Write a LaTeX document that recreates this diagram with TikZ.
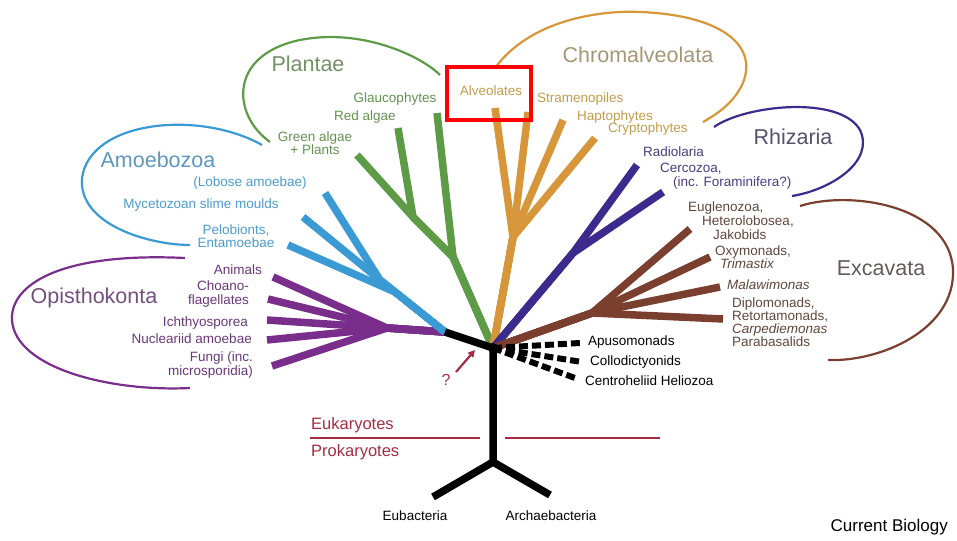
\documentclass[tikz,border=0pt]{standalone}
\usepackage{fontspec}
\setmainfont{Liberation Sans}
\usetikzlibrary{arrows.meta}
\definecolor{opi}{RGB}{122,46,140}
\definecolor{opit}{RGB}{105,55,120}
\definecolor{opig}{RGB}{115,80,125}
\definecolor{amo}{RGB}{58,154,212}
\definecolor{amot}{RGB}{75,155,205}
\definecolor{amog}{RGB}{95,150,190}
\definecolor{pla}{RGB}{94,155,70}
\definecolor{plat}{RGB}{100,145,80}
\definecolor{plag}{RGB}{115,145,100}
\definecolor{chr}{RGB}{216,150,58}
\definecolor{chrt}{RGB}{195,155,75}
\definecolor{chrg}{RGB}{165,150,120}
\definecolor{rhi}{RGB}{60,42,140}
\definecolor{rhit}{RGB}{70,60,130}
\definecolor{rhig}{RGB}{85,80,110}
\definecolor{exc}{RGB}{122,63,46}
\definecolor{exct}{RGB}{95,70,60}
\definecolor{excg}{RGB}{100,90,90}
\definecolor{euk}{RGB}{165,45,65}
\tikzset{
  branch/.style={line width=7.5pt, line join=round},
  loopline/.style={line width=2.2pt},
  lbl/.style={font=\fontsize{13.5}{13.5}\selectfont, inner sep=0pt},
  grp/.style={font=\fontsize{21.5}{24}\selectfont, inner sep=0pt},
  dashbranch/.style={line width=6pt, dash pattern=on 9pt off 4pt}
}
\begin{document}
\begin{tikzpicture}[x=1pt,y=-1pt]
\useasboundingbox (0,0) rectangle (957,540);
% ---- coordinates
\coordinate (hub) at (493,348);
\coordinate (bp) at (445,332);
\coordinate (split) at (493,462);
\coordinate (eub) at (433,497);
\coordinate (arc) at (550,495);
% opisthokonta
\coordinate (oj) at (387,328);
\coordinate (ani) at (273,277);
\coordinate (cho) at (268,299);
\coordinate (ich) at (267,320);
\coordinate (nuc) at (267,340);
\coordinate (fun) at (272,366);
% amoebozoa
\coordinate (aj) at (395,292);
\coordinate (aj2) at (380,280);
\coordinate (lob) at (325,193);
\coordinate (myx) at (303,217);
\coordinate (pel) at (288,245);
% plantae
\coordinate (gj1) at (453,257);
\coordinate (gj2) at (413,217);
\coordinate (gla) at (437,113);
\coordinate (red) at (398,128);
\coordinate (gre) at (357,155);
% chromalveolata
\coordinate (cj) at (513,237);
\coordinate (alv) at (495,108);
\coordinate (str) at (528,112);
\coordinate (hap) at (563,120);
\coordinate (cry) at (595,138);
% rhizaria
\coordinate (rj) at (573,253);
\coordinate (rad) at (637,165);
\coordinate (cer) at (663,192);
% excavata
\coordinate (bj) at (592,313);
\coordinate (eug) at (690,229);
\coordinate (oxy) at (710,257);
\coordinate (mal) at (720,287);
\coordinate (dip) at (723,319);
% dashed
\coordinate (apu) at (580,343);
\coordinate (col) at (582,362);
\coordinate (cen) at (575,378);
% arrow
\coordinate (qs) at (456,372);
\coordinate (qe) at (475,350);

% ---- loops
\draw[loopline,opi] (185,258) .. controls (60,252) and (10,285) .. (12,320) .. controls (15,368) and (110,392) .. (190,388);
\draw[loopline,amo] (262,145) .. controls (200,110) and (90,120) .. (82,178) .. controls (78,225) and (150,245) .. (190,245);
\draw[loopline,pla] (270,142) .. controls (232,115) and (228,55) .. (300,40) .. controls (360,28) and (420,55) .. (440,75);
\draw[loopline,chr] (495,68) .. controls (530,20) and (600,10) .. (640,12) .. controls (720,15) and (760,45) .. (742,85) .. controls (732,105) and (715,115) .. (703,122);
\draw[loopline,rhi] (714,127) .. controls (745,105) and (840,95) .. (860,130) .. controls (875,162) and (830,190) .. (792,196);
\draw[loopline,exc] (800,206) .. controls (850,190) and (950,205) .. (953,270) .. controls (955,330) and (880,362) .. (828,360);

% ---- branches
\foreach \e in {ani,cho,ich,nuc,fun} \draw[branch,opi] (bp) -- (oj) -- (\e);
\draw[branch,amo] (bp) -- (aj) -- (pel);
\foreach \e in {lob,myx} \draw[branch,amo] (bp) -- (aj2) -- (\e);
\draw[branch,pla] (hub) -- (gj1) -- (gla);
\foreach \e in {red,gre} \draw[branch,pla] (hub) -- (gj1) -- (gj2) -- (\e);
\foreach \e in {alv,str,hap,cry} \draw[branch,chr] (hub) -- (cj) -- (\e);
\foreach \e in {rad,cer} \draw[branch,rhi] (hub) -- (rj) -- (\e);
\foreach \e in {eug,oxy,mal,dip} \draw[branch,exc] (hub) -- (bj) -- (\e);
\foreach \e in {apu,col,cen} \draw[dashbranch] (hub) -- (\e);
\draw[branch,black] (bp) -- (hub) -- (split) -- (eub);
\draw[branch,black] (split) -- (arc);
\fill[black] (hub) circle (5pt);

% ---- arrow
\draw[line width=2.2pt,euk,-{Triangle[length=7pt,width=7pt]}] (qs) -- (qe);
\node[lbl,euk,font=\fontsize{16}{16}\selectfont] (q) at (446,380) {?};

% ---- eukaryote / prokaryote
\coordinate (r1a) at (310,438);
\coordinate (r1b) at (480,438);
\coordinate (r2a) at (505,438);
\coordinate (r2b) at (660,438);
\draw[line width=2.6pt,euk] (r1a) -- (r1b);
\draw[line width=2.6pt,euk] (r2a) -- (r2b);
\node[lbl,euk,anchor=west,font=\fontsize{16.5}{16.5}\selectfont] (leuk) at (311,425) {Eukaryotes};
\node[lbl,euk,anchor=west,font=\fontsize{16.5}{16.5}\selectfont] (lpro) at (311,452) {Prokaryotes};
\node[lbl] (leub) at (415,516) {Eubacteria};
\node[lbl] (larc) at (551,516) {Archaebacteria};
\node[lbl,anchor=east,font=\fontsize{17}{17}\selectfont] (lcb) at (948,527) {Current Biology};

% ---- group labels
\node[grp,opig] (gOpi) at (94,298) {Opisthokonta};
\node[grp,amog] (gAmo) at (158,160) {Amoebozoa};
\node[grp,plag] (gPla) at (308,64) {Plantae};
\node[grp,chrg] (gChr) at (638,55) {Chromalveolata};
\node[grp,rhig] (gRhi) at (793,137) {Rhizaria};
\node[grp,excg] (gExc) at (881,268) {Excavata};

% ---- opisthokonta labels
\node[lbl,opit,anchor=east] (lAni) at (262,270) {Animals};
\node[lbl,opit,anchor=east,align=right] (lCho) at (249,294) {Choano-\\flagellates};
\node[lbl,opit,anchor=east] (lIch) at (248,323) {Ichthyosporea};
\node[lbl,opit,anchor=east] (lNuc) at (252,339) {Nucleariid amoebae};
\node[lbl,opit,anchor=east,align=right] (lFun) at (253,365) {Fungi (inc.\\microsporidia)};

% ---- amoebozoa labels
\node[lbl,amot] (lLob) at (250,183) {(Lobose amoebae)};
\node[lbl,amot] (lMyx) at (201,205) {Mycetozoan slime moulds};
\node[lbl,amot,align=center] (lPel) at (236,236) {Pelobionts,\\Entamoebae};

% ---- plantae labels
\node[lbl,plat] (lGla) at (395,99) {Glaucophytes};
\node[lbl,plat] (lRed) at (365,117) {Red algae};
\node[lbl,plat,align=center] (lGre) at (315,143) {Green algae\\+ Plants};

% ---- chromalveolata labels
\node[lbl,chrt] (lAlv) at (491,91) {Alveolates};
\node[lbl,chrt,anchor=west] (lStr) at (537,99) {Stramenopiles};
\node[lbl,chrt,anchor=west] (lHap) at (577,117) {Haptophytes};
\node[lbl,chrt,anchor=west] (lCry) at (608,129) {Cryptophytes};
\draw[line width=3.5pt,red] (447,67) rectangle (531,120);

% ---- rhizaria labels
\node[lbl,rhit,anchor=west] (lRad) at (643,152) {Radiolaria};
\node[lbl,rhit,anchor=west,align=left] (lCer) at (660,176) {Cercozoa,\\\hspace*{13pt}(inc. Foraminifera?)};

% ---- excavata labels
\node[lbl,exct,anchor=west,align=left,font=\fontsize{13.5}{14}\selectfont] (lEug) at (688,221) {Euglenozoa,\\\hspace*{14pt}Heterolobosea,\\\hspace*{25pt}Jakobids};
\node[lbl,exct,anchor=west,align=left,font=\fontsize{13.5}{12}\selectfont] (lOxy) at (715,257) {Oxymonads,\\\hspace*{5pt}\textit{Trimastix}};
\node[lbl,exct,anchor=west] (lMal) at (727,285) {\textit{Malawimonas}};
\node[lbl,exct,anchor=west,align=left,font=\fontsize{13.5}{13}\selectfont] (lDip) at (732,322) {Diplomonads,\\Retortamonads,\\\textit{Carpediemonas}\\Parabasalids};

% ---- other labels
\node[lbl,anchor=west] (lApu) at (588,342) {Apusomonads};
\node[lbl,anchor=west] (lCol) at (590,362) {Collodictyonids};
\node[lbl,anchor=west] (lCen) at (585,381) {Centroheliid Heliozoa};
\end{tikzpicture}
\end{document}
